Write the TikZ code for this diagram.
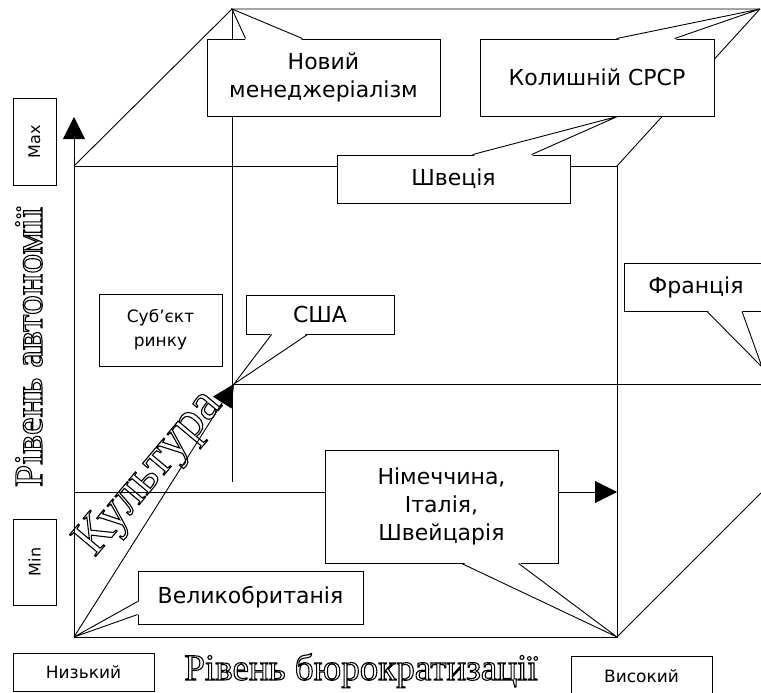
\documentclass[tikz,border=0pt]{standalone}
\usepackage{fontspec}
\setmainfont{DejaVu Sans}
\newfontfamily\outlinefont{Liberation Serif}
\usetikzlibrary{arrows.meta}
% outlined letters: stroke only (text render mode 1)
\newcommand{\hollowtext}[1]{\special{pdf:literal direct 1 Tr}#1\special{pdf:literal direct 0 Tr}}

\tikzset{
  lbl/.style={draw, fill=white, inner sep=0pt, align=center, font=\fontsize{22}{28}\selectfont},
  tag/.style={draw, fill=white, inner sep=0pt, font=\fontsize{17}{24}\selectfont},
  ax/.style={-{Triangle[length=22pt,width=22pt]}},
  outl/.style={line width=1.1pt, font=\outlinefont\fontsize{37}{40}\selectfont},
}

\begin{document}
\begin{tikzpicture}[x=1pt,y=-1pt,line width=0.9pt]
\useasboundingbox (0,0) rectangle (761,693);
\clip (0,0) rectangle (761,693);

% corners of the cube
\coordinate (o) at (74,637);
\coordinate (ftl) at (74,166);
\coordinate (ftr) at (617,166);
\coordinate (fbr) at (617,637);
\coordinate (btl) at (232,9);
\coordinate (btr) at (760,9);
\coordinate (cult) at (234,384);
\coordinate (ytip) at (74,117);

\draw (o) -- (fbr) -- (ftr) -- (ftl);
\draw [ax] (o) -- (ytip);
\draw (ftl) -- (btl) -- (btr);
\draw (ftr) -- (btr);
\draw (btl) -- (232,482);
\draw (fbr) -- (790,464);
\draw (cult) -- (770,384);
\draw [ax] (74,492) -- (617,492);

% axis texts
\node [outl, rotate=90, anchor=base, font=\outlinefont\fontsize{40}{44}\selectfont] (ylab) at (42,347) {\hollowtext{Рівень автономії}};
\node [outl, anchor=base] (xlab) at (361,680) {\hollowtext{Рівень бюрократизації}};
\node [outl, rotate=50, font=\outlinefont\fontsize{52}{56}\selectfont] (clab) at (150,474) {\hollowtext{Культура}};
\draw [ax] (o) -- (cult);

\node [tag, rotate=90, minimum width=87pt, minimum height=43pt, font=\fontsize{16}{20}\selectfont] (max) at (34.5,141.5) {Max};
\node [tag, rotate=90, minimum width=86pt, minimum height=43pt, font=\fontsize{16}{20}\selectfont] (min) at (34.5,562) {Min};
\node [tag, minimum width=141pt, minimum height=38pt] (low) at (83.5,672) {Низький};
\node [tag, minimum width=141pt, minimum height=40pt, anchor=north] (high) at (641.5,656) {Високий};
\node [tag, minimum width=123pt, minimum height=72pt, align=center] (subj) at (160.5,330) {Суб’єкт\\ринку};

% callouts
\node [lbl, minimum width=233pt, minimum height=77pt] (nm) at (323.5,77.5) {Новий\\менеджеріалізм};
\fill [white] ([xshift=39pt,yshift=-1.5pt]nm.north west) -- (btl) -- ([xshift=96pt,yshift=-1.5pt]nm.north west) -- cycle;
\draw ([xshift=39pt]nm.north west) -- (btl) -- ([xshift=96pt]nm.north west);

\node [lbl, minimum width=234pt, minimum height=77pt] (ussr) at (597,77.5) {Колишній СРСР};
\fill [white] ([xshift=137pt,yshift=-1.5pt]ussr.north west) -- (btr) -- ([xshift=195pt,yshift=-1.5pt]ussr.north west) -- cycle;
\draw ([xshift=137pt]ussr.north west) -- (btr) -- ([xshift=195pt]ussr.north west);

\node [lbl, minimum width=233pt, minimum height=48pt] (swe) at (453.5,179) {Швеція};
\fill [white] ([xshift=136pt,yshift=-1.5pt]swe.north west) -- ([xshift=138pt]ussr.south west) -- ([xshift=195pt,yshift=-1.5pt]swe.north west) -- cycle;
\draw ([xshift=136pt]swe.north west) -- ([xshift=138pt]ussr.south west) -- ([xshift=195pt]swe.north west);

\node [lbl, minimum width=148pt, minimum height=39pt] (usa) at (320,314.5) {США};
\fill [white] ([xshift=26pt,yshift=1.5pt]usa.south west) -- (cult) -- ([xshift=62pt,yshift=1.5pt]usa.south west) -- cycle;
\draw ([xshift=26pt]usa.south west) -- (cult) -- ([xshift=62pt]usa.south west);

\coordinate (frtip) at (762,367);
\node [lbl, minimum height=48pt, inner xsep=24pt, anchor=west] (fr) at (624,287) {Франція\hspace*{80pt}};
\fill [white] ([xshift=83pt,yshift=1.5pt]fr.south west) -- (frtip) -- ([xshift=118pt,yshift=1.5pt]fr.south west) -- cycle;
\draw ([xshift=83pt]fr.south west) -- (frtip) -- ([xshift=118pt]fr.south west);

\node [lbl, minimum width=233pt, minimum height=113pt] (ger) at (441.5,506.5) {Німеччина,\\Італія,\\Швейцарія};
\fill [white] ([xshift=137pt,yshift=1.5pt]ger.south west) -- (fbr) -- ([xshift=194pt,yshift=1.5pt]ger.south west) -- cycle;
\draw ([xshift=137pt]ger.south west) -- (fbr) -- ([xshift=194pt]ger.south west);

\node [lbl, minimum width=225pt, minimum height=53pt] (gb) at (250.5,597.5) {Великобританія};
\fill [white] ([xshift=1.5pt,yshift=-31pt]gb.north west) -- (o) -- ([xshift=1.5pt,yshift=-44pt]gb.north west) -- cycle;
\draw ([yshift=-31pt]gb.north west) -- (o) -- ([yshift=-44pt]gb.north west);
\end{tikzpicture}
\end{document}
